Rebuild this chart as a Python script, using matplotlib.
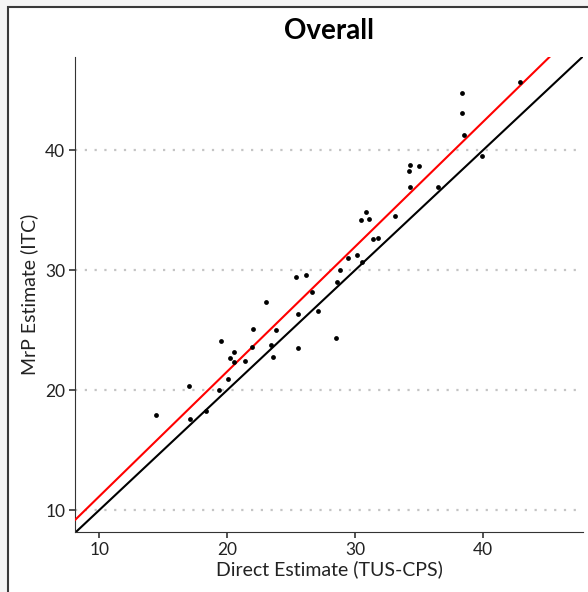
import matplotlib
matplotlib.use("Agg")
import matplotlib.pyplot as plt
from matplotlib.patches import Rectangle
import numpy as np

plt.rcParams['font.family'] = ['Lato', 'DejaVu Sans']

# Data: Direct Estimate (TUS-CPS) vs MrP Estimate (ITC)
direct = [14.43, 17.03, 17.09, 18.31, 19.33, 19.51, 20.08, 20.23, 20.50, 20.55,
          21.38, 21.93, 22.03, 23.05, 23.41, 23.59, 23.78, 25.52, 25.52, 25.37,
          26.17, 26.64, 27.06, 28.47, 28.55, 28.83, 29.43, 30.16, 30.50, 30.47,
          30.86, 31.09, 31.41, 31.75, 33.10, 34.25, 34.20, 34.30, 34.95, 36.48,
          38.36, 38.36, 38.52, 39.92, 42.87]
mrp = [17.94, 20.36, 17.61, 18.23, 20.03, 24.06, 20.89, 22.64, 23.17, 22.36,
       22.39, 23.56, 25.08, 27.33, 23.72, 22.78, 25.03, 26.33, 23.53, 29.44,
       29.56, 28.14, 26.61, 24.36, 28.97, 29.97, 30.97, 31.25, 30.69, 34.19,
       34.81, 34.25, 32.56, 32.67, 34.53, 36.94, 38.25, 38.75, 38.69, 36.92,
       44.75, 43.08, 41.25, 39.50, 45.69]

fit_intercept = 0.74
fit_slope = 1.0405

x_ticks = [10, 20, 30, 40]
y_ticks = [10, 20, 30, 40]
x_lim = (8.1, 47.8)
y_lim = (8.17, 47.75)

W, H = 588, 592
fig = plt.figure(figsize=(W / 100, H / 100), dpi=100)
fig.patch.set_facecolor('#f5f5f5')

# panel frame (extends past the right/bottom edge)
frame = Rectangle((7.5 / W, -0.2), 1.5, 1.2 - 6.5 / H, transform=fig.transFigure,
                  facecolor='white', edgecolor='#3a3a3a', linewidth=1.5, zorder=-5)
fig.patches.append(frame)

ax = fig.add_axes([75 / W, 1 - 532 / H, (583 - 75) / W, (532 - 57) / H])
ax.set_zorder(2)
ax.set_facecolor('none')

ax.set_xlim(*x_lim)
ax.set_ylim(*y_lim)

for yt in y_ticks:
    ax.axhline(yt, color='#c4c4c4', linewidth=1.6, linestyle=(0, (1, 3.4)), zorder=1)

ax.axline((0, 0), slope=1, color='black', linewidth=1.5, zorder=2)
ax.axline((0, fit_intercept), slope=fit_slope, color='#ff0000', linewidth=1.5, zorder=3)
ax.scatter(direct, mrp, s=12, color='black', zorder=4, linewidths=0)

for side in ['top', 'right']:
    ax.spines[side].set_visible(False)
for side in ['left', 'bottom']:
    ax.spines[side].set_color('#333333')
    ax.spines[side].set_linewidth(0.8)

ax.set_xticks(x_ticks)
ax.set_yticks(y_ticks)
ax.tick_params(axis='both', length=4, width=1.2, color='#333333',
               labelsize=12.5, labelcolor='#222222', pad=3)

ax.set_xlabel('Direct Estimate (TUS-CPS)', fontsize=14, color='#222222', labelpad=2)
ax.set_ylabel('MrP Estimate (ITC)', fontsize=14, color='#222222', labelpad=5)
ax.set_title('Overall', fontsize=20, fontweight='bold', pad=13)

fig.savefig('out.png', dpi=100, facecolor=fig.get_facecolor())
